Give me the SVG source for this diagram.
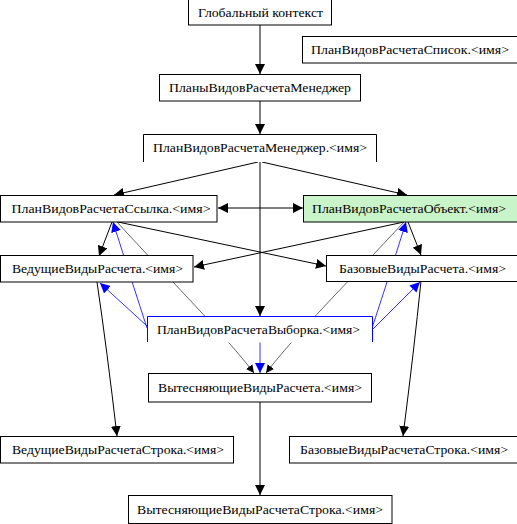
<svg xmlns="http://www.w3.org/2000/svg" width="517" height="524" viewBox="0 0 517 524">
<style>
.box{fill:#fff;stroke:#000;stroke-width:1}
.open{fill:none;stroke:#000;stroke-width:1}
.openb{fill:none;stroke:#0000ff;stroke-width:1}
.fillw{fill:#fff;stroke:none}
.green{fill:#c9f3c9;stroke:#000;stroke-width:1}
text{font-family:'Liberation Serif','Liberation Sans',serif;font-size:13px;text-anchor:middle;fill:#000}
.e{fill:none;stroke:#000;stroke-width:1}
.t{fill:none;stroke:#000;stroke-width:0.6}
.b{fill:none;stroke:#0000ff;stroke-width:0.8}
</style>
<defs>
<marker id="ak" viewBox="0 0 10 10" refX="10" refY="5" markerWidth="10" markerHeight="10" markerUnits="userSpaceOnUse" orient="auto-start-reverse"><path d="M0,0 L10,5 L0,10 z" fill="#000"/></marker>
<marker id="ab" viewBox="0 0 10 10" refX="10" refY="5" markerWidth="10" markerHeight="10" markerUnits="userSpaceOnUse" orient="auto"><path d="M0,0 L10,5 L0,10 z" fill="#0000ff"/></marker>
<marker id="as" viewBox="0 0 10 10" refX="10" refY="5" markerWidth="8" markerHeight="8" markerUnits="userSpaceOnUse" orient="auto"><path d="M0,0 L10,5 L0,10 z" fill="#000"/></marker>
</defs>
<g id="connectors">
<path class="e" d="M260,25 L260,74" marker-end="url(#ak)"/>
<path class="e" d="M260,101 L260,134" marker-end="url(#ak)"/>
<path class="e" d="M258,162 L114,195" marker-end="url(#ak)"/>
<path class="e" d="M262,162 L407,195" marker-end="url(#ak)"/>
<path class="e" d="M260,162 L260,316" marker-end="url(#ak)"/>
<path class="e" d="M218,208 L303,208" marker-start="url(#ak)" marker-end="url(#ak)"/>
<path class="e" d="M118,222 L326,266" marker-end="url(#ak)"/>
<path class="e" d="M404,222 L194,267" marker-end="url(#ak)"/>
<path class="e" d="M112,222 L99,256" marker-end="url(#ak)"/>
<path class="e" d="M408,222 L421,255" marker-end="url(#ak)"/>
<path class="e" d="M97,282 Q107,350 117,436" marker-end="url(#ak)"/>
<path class="e" d="M421,281 Q414,350 403,436" marker-end="url(#ak)"/>
<path class="e" d="M260,402 L260,495" marker-end="url(#ak)"/>
<path class="t" d="M117,222 C170,280 225,335 254,373" marker-end="url(#as)"/>
<path class="t" d="M404,222 C350,280 295,335 266,373" marker-end="url(#as)"/>
<path class="b" d="M147,328 Q133,285 113,222" marker-end="url(#ab)"/>
<path class="b" d="M147,326 L100,283" marker-end="url(#ab)"/>
<path class="b" d="M372,328 Q385,289 406,222" marker-end="url(#ab)"/>
<path class="b" d="M372,330 L420,282" marker-end="url(#ab)"/>
<path class="b" d="M260,342 L260,373" marker-end="url(#ab)"/>
</g>
<g id="n_global"><rect class="box" x="188.5" y="-0.5" width="143" height="25.5"/><text x="260.5" y="17" textLength="125" lengthAdjust="spacingAndGlyphs">Глобальный контекст</text></g>
<g id="n_spisok"><rect class="box" x="302.5" y="36.5" width="216" height="26.5"/><text x="410" y="54" textLength="198" lengthAdjust="spacingAndGlyphs">ПланВидовРасчетаСписок.&lt;имя&gt;</text></g>
<g id="n_planymgr"><rect class="box" x="159.5" y="74.5" width="201" height="26.5"/><text x="260" y="92" textLength="182" lengthAdjust="spacingAndGlyphs">ПланыВидовРасчетаМенеджер</text></g>
<g id="n_mgr"><rect class="fillw" x="143.5" y="134.5" width="233" height="27.5"/><path class="open" d="M143.5,162 L143.5,134.5 L376.5,134.5 L376.5,162"/><text x="260" y="152" textLength="214" lengthAdjust="spacingAndGlyphs">ПланВидовРасчетаМенеджер.&lt;имя&gt;</text></g>
<g id="n_ssylka"><rect class="box" x="0.5" y="195.5" width="216.5" height="26.5"/><text x="111" y="213" textLength="199" lengthAdjust="spacingAndGlyphs">ПланВидовРасчетаСсылка.&lt;имя&gt;</text></g>
<g id="n_obj"><rect class="green" x="303.5" y="195.5" width="215" height="26.5"/><text x="409" y="213" textLength="194" lengthAdjust="spacingAndGlyphs">ПланВидовРасчетаОбъект.&lt;имя&gt;</text></g>
<g id="n_veduschie"><rect class="box" x="0.5" y="255.5" width="192.5" height="26.5"/><text x="97.5" y="273" textLength="171" lengthAdjust="spacingAndGlyphs">ВедущиеВидыРасчета.&lt;имя&gt;</text></g>
<g id="n_bazovye"><rect class="box" x="326.5" y="255.5" width="192" height="26"/><text x="422.5" y="273" textLength="167" lengthAdjust="spacingAndGlyphs">БазовыеВидыРасчета.&lt;имя&gt;</text></g>
<g id="n_vyborka"><rect class="fillw" x="147.5" y="316.5" width="225" height="26"/><path class="openb" d="M147.5,342 L147.5,316.5 L372.5,316.5 L372.5,342"/><text x="258.5" y="334" textLength="203" lengthAdjust="spacingAndGlyphs">ПланВидовРасчетаВыборка.&lt;имя&gt;</text></g>
<g id="n_vyt"><rect class="box" x="148.5" y="373.5" width="223" height="28.5"/><text x="260" y="392" textLength="204" lengthAdjust="spacingAndGlyphs">ВытесняющиеВидыРасчета.&lt;имя&gt;</text></g>
<g id="n_vedstr"><rect class="box" x="0.5" y="436.5" width="233" height="26.5"/><text x="118" y="454" textLength="212" lengthAdjust="spacingAndGlyphs">ВедущиеВидыРасчетаСтрока.&lt;имя&gt;</text></g>
<g id="n_bazstr"><rect class="box" x="289.5" y="436.5" width="229" height="26.5"/><text x="404" y="454" textLength="208" lengthAdjust="spacingAndGlyphs">БазовыеВидыРасчетаСтрока.&lt;имя&gt;</text></g>
<g id="n_vytstr"><rect class="box" x="128.5" y="495.5" width="263.5" height="28"/><text x="260" y="514" textLength="246" lengthAdjust="spacingAndGlyphs">ВытесняющиеВидыРасчетаСтрока.&lt;имя&gt;</text></g>
</svg>
